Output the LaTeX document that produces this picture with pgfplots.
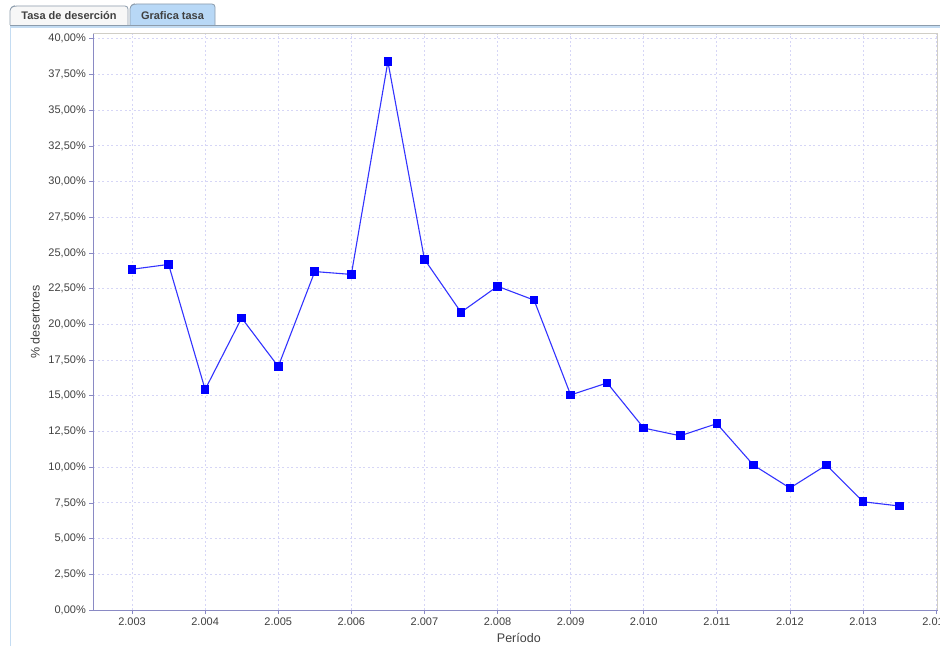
\documentclass[border=0pt]{standalone}
\usepackage{pgfplots}
\pgfplotsset{compat=1.18}
\usepackage{fontspec}
\setmainfont{Liberation Sans}
\definecolor{gridc}{HTML}{D6D6F6}
\definecolor{axisc}{HTML}{8A8AC4}
\definecolor{framec}{HTML}{D0CEC6}
\definecolor{ticklab}{HTML}{404040}
\definecolor{serie}{HTML}{0000FF}
\definecolor{tabblue}{HTML}{B8D8F6}
\definecolor{tabborder}{HTML}{8C9CAC}
\definecolor{panelblue}{HTML}{C4DCF2}
\begin{document}
\begin{tikzpicture}[x=1pt,y=1pt]
% background
\fill[white] (0,0) rectangle (940,646);
% tab strip
\fill[panelblue] (10,618) rectangle (940,621);
\draw[tabborder,line width=0.8pt] (10,621) -- (940,621);
\draw[panelblue,line width=1.2pt] (10.5,0) -- (10.5,618);
\filldraw[fill=white!94!gray,draw=tabborder,line width=0.8pt,rounded corners=3pt]
  (10,621) -- (10,638) -- (14,640) -- (128,640) -- (128,621);
\filldraw[fill=tabblue,draw=tabborder,line width=0.8pt,rounded corners=3pt]
  (130,621) -- (130,640) -- (134,642) -- (215,642) -- (215,621);
\node[font=\bfseries\fontsize{11}{13}\selectfont,text=ticklab,anchor=base] at (69,626) {Tasa de deserción};
\node[font=\bfseries\fontsize{11}{13}\selectfont,text=ticklab,anchor=base] at (172.5,626) {Grafica tasa};
\begin{axis}[
  at={(93.3pt,36pt)}, anchor=south west,
  scale only axis, width=844.3pt, height=576.2pt,
  xmin=2002.47, xmax=2014.02, ymin=0, ymax=40.35,
  xtick={2003,2004,2005,2006,2007,2008,2009,2010,2011,2012,2013,2014},
  xticklabels={2.003,2.004,2.005,2.006,2.007,2.008,2.009,2.010,2.011,2.012,2.013,2.014},
  ytick={0,2.5,...,40},
  /pgf/number format/assume math mode=true,
  yticklabel={\pgfmathprintnumber[fixed,fixed zerofill,precision=2,use comma]{\tick}\%},
  ticklabel style={font=\fontsize{11}{13}\selectfont, text=ticklab},
  tick align=outside, major tick length=4pt,
  tick style={axisc, line width=0.6pt},
  xtick pos=bottom, ytick pos=left,
  grid=major,
  major grid style={gridc, dash pattern=on 2pt off 2.5pt, line width=0.8pt},
  axis line style={framec, line width=1pt},
  xlabel={Período}, ylabel={\% desertores},
  label style={font=\fontsize{12.5}{14}\selectfont, text=ticklab},
  xlabel style={at={(axis description cs:0.504,0)}, anchor=north, yshift=-20pt},
  ylabel style={at={(axis description cs:-0.069,0.5)}, anchor=center},
  clip=false,
]
\draw[axisc, line width=1pt] (rel axis cs:0,1) -- (rel axis cs:0,0) -- (rel axis cs:1,0);
\addplot[color=serie!80!white, line width=1.1pt, mark=square*, mark size=3.8pt,
  mark options={fill=serie, draw=serie, line width=0pt, solid}] coordinates {
(2003.0,23.86) (2003.5,24.2) (2004.0,15.44) (2004.5,20.45) (2005.0,17.05)
(2005.5,23.7) (2006.0,23.5) (2006.5,38.4) (2007.0,24.56) (2007.5,20.85)
(2008.0,22.67) (2008.5,21.7) (2009.0,15.06) (2009.5,15.9) (2010.0,12.74)
(2010.5,12.2) (2011.0,13.05) (2011.5,10.15) (2012.0,8.54) (2012.5,10.15)
(2013.0,7.58) (2013.5,7.28)
};
\end{axis}
\pgfresetboundingbox
\useasboundingbox (0,0) rectangle (940,646);
\end{tikzpicture}
\end{document}
